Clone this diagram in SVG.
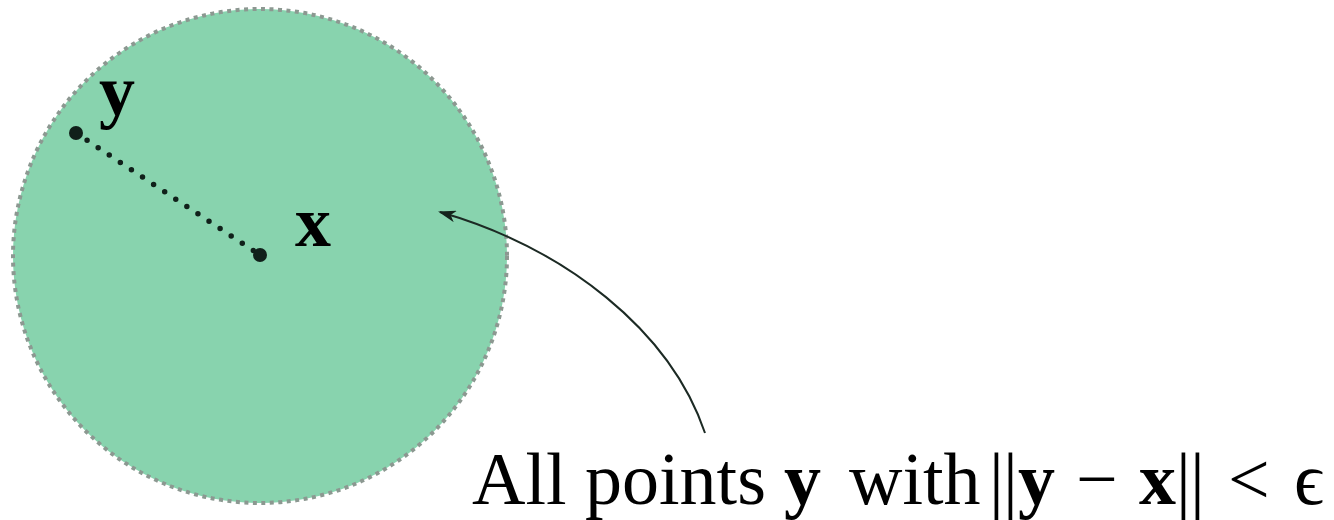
<svg xmlns="http://www.w3.org/2000/svg" width="1334" height="520" viewBox="0 0 1334 520">
  <defs>
    <style>
      .lbl { font-family: "Liberation Serif", "DejaVu Serif", serif; fill: #000; }
      .b { font-weight: bold; }
    </style>
    <marker id="ah" viewBox="0 0 18 12" refX="16" refY="6" markerWidth="18" markerHeight="12" markerUnits="userSpaceOnUse" orient="auto">
      <path d="M0,0 L18,6 L0,12 L5,6 Z" fill="#14241c"/>
    </marker>
  </defs>
  <rect width="1334" height="520" fill="#fff"/>
  <g id="ball">
    <circle cx="260" cy="256" r="247" fill="#88d3ae" stroke="#8c9891" stroke-width="4" stroke-dasharray="4 4.5"/>
  </g>
  <g id="connectors">
    <line x1="76" y1="133" x2="260" y2="255" stroke="#10201a" stroke-width="5.5" stroke-linecap="round" stroke-dasharray="0 13.3"/>
    <path d="M705,433 C670,330 565,248 440,212" fill="none" stroke="#1c2a24" stroke-width="2" marker-end="url(#ah)"/>
  </g>
  <g id="point-y">
    <circle cx="76" cy="133" r="7" fill="#10201a"/>
    <text class="lbl b" x="99" y="115" font-size="72">y</text>
  </g>
  <g id="point-x">
    <circle cx="260" cy="255" r="7" fill="#10201a"/>
    <text class="lbl b" x="295" y="246" font-size="72">x</text>
  </g>
  <g id="caption">
    <text class="lbl" y="504" font-size="74"><tspan x="472">All points</tspan><tspan class="b" x="784">y</tspan><tspan x="849">with</tspan><tspan x="989">|</tspan><tspan x="1003">|</tspan><tspan class="b" x="1018">y</tspan><tspan x="1076">−</tspan><tspan class="b" x="1139">x</tspan><tspan x="1176">|</tspan><tspan x="1190">|</tspan><tspan x="1228">&lt;</tspan><tspan x="1294">ϵ</tspan></text>
  </g>
</svg>
